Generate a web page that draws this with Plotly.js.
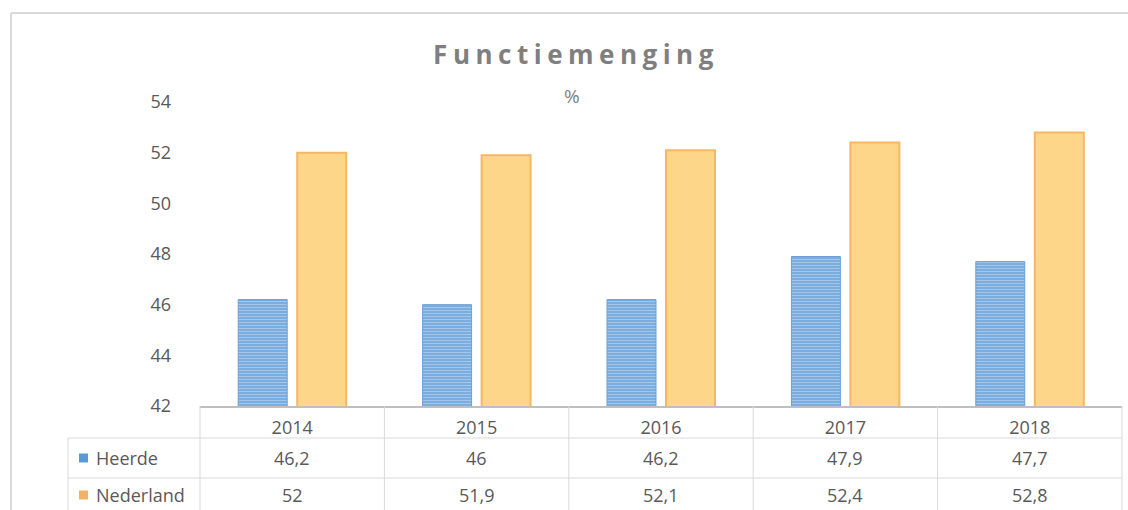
<!DOCTYPE html>
<html>
<head>
<meta charset="utf-8">
<script src="https://cdn.plot.ly/plotly-3.0.1.min.js"></script>
<style>
  html, body { margin: 0; padding: 0; background: #fff; }
  #chart { width: 1128px; height: 510px; }
  #chart .gtitle { letter-spacing: 5.5px; }
</style>
</head>
<body>
<div id="chart"></div>
<script>
// Functiemenging, Heerde vs Nederland
var years = ['2014', '2015', '2016', '2017', '2018'];
var seriesNames = ['Heerde', 'Nederland'];
var heerde = [46.2, 46, 46.2, 47.9, 47.7];
var nederland = [52, 51.9, 52.1, 52.4, 52.8];

var W = 1128, H = 510;
var margin = { l: 200, r: 6, t: 102, b: 104 };
var plotW = W - margin.l - margin.r;
var plotH = H - margin.t - margin.b;

// pixel -> paper helpers
function px(x) { return (x - margin.l) / plotW; }
function py(y) { return (H - margin.b - y) / plotH; }

function fmt(v) { return String(v).replace('.', ','); }

var blue = '#5b9bd5';
var orange = '#fdd68a';
var grey = '#595959';
var lineCol = '#d9d9d9';
var fs = 18;

var traceHeerde = {
    x: years,
    y: heerde,
    name: seriesNames[0],
    type: 'bar',
    marker: {
        color: blue,
        line: { color: '#6b9fd6', width: 1 },
        pattern: {
            shape: '-',
            fgcolor: '#d9e7f6',
            bgcolor: '#6ea5db',
            size: 3,
            solidity: 0.5,
            fillmode: 'overlay'
        }
    },
    hoverinfo: 'none'
};

var traceNederland = {
    x: years,
    y: nederland,
    name: seriesNames[1],
    type: 'bar',
    marker: {
        color: orange,
        line: { color: '#f5b766', width: 2 }
    },
    hoverinfo: 'none'
};

// data table below the chart
var rowY = [py(458), py(495)];
var rowLines = [py(438), py(478)];
var bottom = py(512);
var leftCol = px(68);
var n = years.length;

var shapes = [];
var annotations = [];

// outer frame
shapes.push({ type: 'line', xref: 'paper', yref: 'paper', x0: px(11), x1: px(1140), y0: py(13), y1: py(13), line: { color: '#d9d9d9', width: 2 } });
shapes.push({ type: 'line', xref: 'paper', yref: 'paper', x0: px(11), x1: px(11), y0: py(13), y1: py(520), line: { color: '#d9d9d9', width: 2 } });

// horizontal table lines
rowLines.forEach(function (y) {
    shapes.push({ type: 'line', xref: 'paper', yref: 'paper', x0: leftCol, x1: 1, y0: y, y1: y, line: { color: lineCol, width: 1 } });
});
// vertical table lines
for (var i = 0; i <= n; i++) {
    shapes.push({ type: 'line', xref: 'paper', yref: 'paper', x0: i / n, x1: i / n, y0: 0, y1: bottom, line: { color: lineCol, width: 1 } });
}
shapes.push({ type: 'line', xref: 'paper', yref: 'paper', x0: leftCol, x1: leftCol, y0: rowLines[0], y1: bottom, line: { color: lineCol, width: 1 } });

// legend keys + row labels
var rowData = [heerde, nederland];
var keyColors = [blue, '#f4b264'];
seriesNames.forEach(function (name, r) {
    var yc = rowY[r];
    shapes.push({
        type: 'rect', xref: 'paper', yref: 'paper',
        x0: px(79), x1: px(88), y0: yc - 4.5 / plotH, y1: yc + 4.5 / plotH,
        fillcolor: keyColors[r], line: { width: 0 }
    });
    annotations.push({
        xref: 'paper', yref: 'paper', x: px(94), y: yc,
        xanchor: 'left', yanchor: 'middle', showarrow: false,
        text: name, font: { size: fs, color: grey }
    });
    rowData[r].forEach(function (v, c) {
        annotations.push({
            xref: 'paper', yref: 'paper', x: (c + 0.5) / n, y: yc,
            xanchor: 'center', yanchor: 'middle', showarrow: false,
            text: fmt(v), font: { size: fs, color: grey }
        });
    });
});

// subtitle
annotations.push({
    xref: 'paper', yref: 'paper', x: px(572), y: py(96),
    xanchor: 'center', yanchor: 'middle', showarrow: false,
    text: '%', font: { size: 19, color: '#7f7f7f' }
});

var layout = {
    width: W,
    height: H,
    margin: margin,
    paper_bgcolor: '#ffffff',
    plot_bgcolor: '#ffffff',
    font: { family: 'Open Sans, Liberation Sans, sans-serif', size: fs, color: grey },
    title: {
        text: '<b>Functiemenging</b>',
        x: 576 / W,
        xanchor: 'center',
        y: 1 - 55 / H,
        yanchor: 'middle',
        font: { size: 26, color: '#7f7f7f' }
    },
    showlegend: false,
    barmode: 'group',
    bargap: 0.36,
    bargroupgap: 0.17,
    xaxis: {
        type: 'category',
        range: [-0.5, years.length - 0.5],
        showline: true,
        linecolor: '#bfbfbf',
        linewidth: 2,
        ticks: '',
        showgrid: false,
        ticklabelstandoff: 4,
        tickfont: { size: fs, color: grey },
        fixedrange: true
    },
    yaxis: {
        range: [42, 54],
        dtick: 2,
        tick0: 42,
        showgrid: false,
        zeroline: false,
        showline: false,
        ticks: '',
        ticklabelstandoff: 28,
        tickfont: { size: fs, color: grey },
        fixedrange: true
    },
    shapes: shapes,
    annotations: annotations
};

var options = { displayModeBar: false, staticPlot: true };

Plotly.newPlot('chart', [traceHeerde, traceNederland], layout, options);
</script>
</body>
</html>
